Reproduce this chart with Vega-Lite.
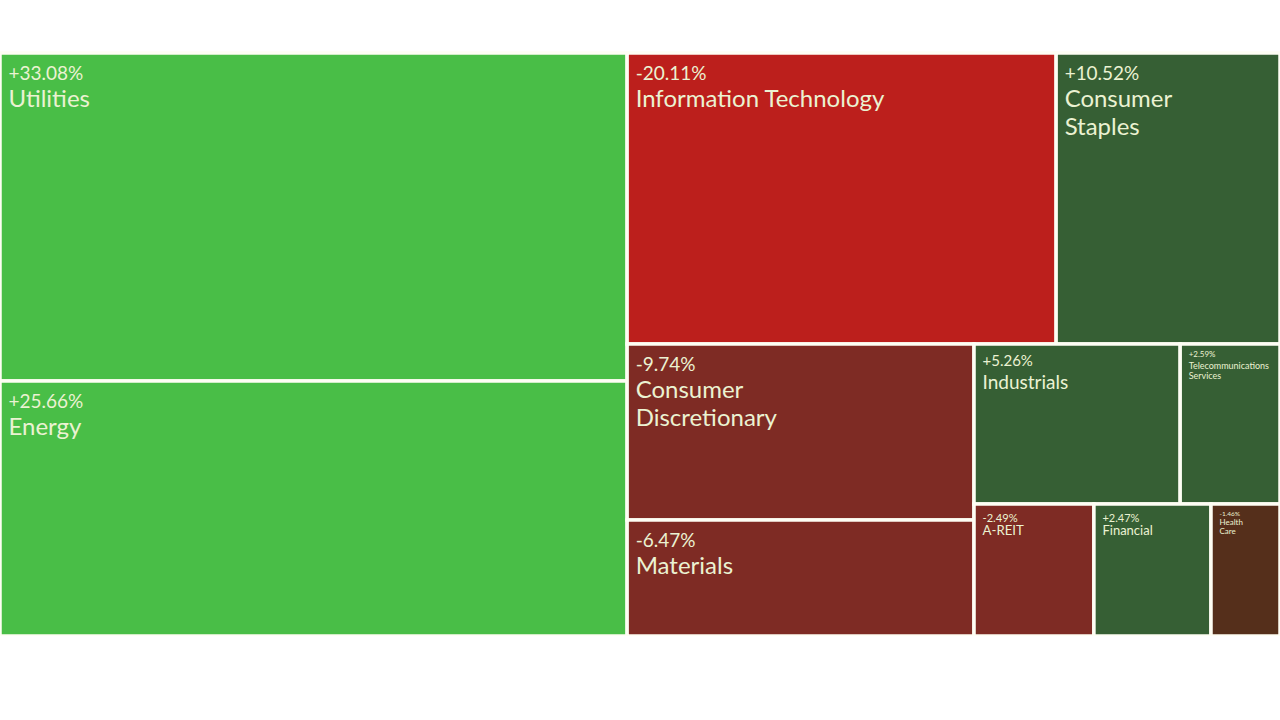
{
  "$schema": "https://vega.github.io/schema/vega-lite/v6.json",
  "width": 1280,
  "height": 583,
  "autosize": "none",
  "padding": {"left": 0, "top": 53, "right": 0, "bottom": 0},
  "background": "#ffffff",
  "config": {
    "view": {"stroke": null, "fill": "#fefef4"},
    "font": "Lato",
    "locale": {"number": {"decimal": ".", "thousands": ",", "grouping": [3], "currency": ["$", ""], "minus": "-"}}
  },
  "data": {
    "values": [
      {"name": "Utilities", "change": 0.3308, "weight": 27.56, "rank": 1, "l1": "A", "l2": "A.U", "l3": "A.U.x", "l4": "A.U.x.x", "l5": "A.U.x.x.x"},
      {"name": "Energy", "change": 0.2566, "weight": 21.43, "rank": 2, "l1": "A", "l2": "A.E", "l3": "A.E.x", "l4": "A.E.x.x", "l5": "A.E.x.x.x"},
      {"name": "Information Technology", "change": -0.2011, "weight": 16.73, "rank": 3, "l1": "B", "l2": "B.T", "l3": "B.T.IT", "l4": "B.T.IT.x", "l5": "B.T.IT.x.x"},
      {"name": "Consumer\nStaples", "change": 0.1052, "weight": 8.73, "rank": 4, "l1": "B", "l2": "B.T", "l3": "B.T.CS", "l4": "B.T.CS.x", "l5": "B.T.CS.x.x"},
      {"name": "Consumer\nDiscretionary", "change": -0.0974, "weight": 8.18, "rank": 5, "l1": "B", "l2": "B.B", "l3": "B.B.L", "l4": "B.B.L.CD", "l5": "B.B.L.CD.x"},
      {"name": "Materials", "change": -0.0647, "weight": 5.39, "rank": 6, "l1": "B", "l2": "B.B", "l3": "B.B.L", "l4": "B.B.L.M", "l5": "B.B.L.M.x"},
      {"name": "Industrials", "change": 0.0526, "weight": 4.42, "rank": 7, "l1": "B", "l2": "B.B", "l3": "B.B.R", "l4": "B.B.R.T", "l5": "B.B.R.T.I"},
      {"name": "Telecommunications\nServices", "change": 0.0259, "weight": 2.14, "rank": 8, "l1": "B", "l2": "B.B", "l3": "B.B.R", "l4": "B.B.R.T", "l5": "B.B.R.T.TS"},
      {"name": "A-REIT", "change": -0.0249, "weight": 2.12, "rank": 9, "l1": "B", "l2": "B.B", "l3": "B.B.R", "l4": "B.B.R.B", "l5": "B.B.R.B.AR"},
      {"name": "Financial", "change": 0.0247, "weight": 2.07, "rank": 10, "l1": "B", "l2": "B.B", "l3": "B.B.R", "l4": "B.B.R.B", "l5": "B.B.R.B.F"},
      {"name": "Health\nCare", "change": -0.0146, "weight": 1.22, "rank": 11, "l1": "B", "l2": "B.B", "l3": "B.B.R", "l4": "B.B.R.B", "l5": "B.B.R.B.HC"}
    ]
  },
  "transform": [
    {"joinaggregate": [{"op": "sum", "field": "weight", "as": "n0"}]},
    {"joinaggregate": [{"op": "sum", "field": "weight", "as": "n1"}], "groupby": ["l1"]},
    {"joinaggregate": [{"op": "sum", "field": "weight", "as": "n2"}], "groupby": ["l2"]},
    {"joinaggregate": [{"op": "sum", "field": "weight", "as": "n3"}], "groupby": ["l3"]},
    {"joinaggregate": [{"op": "sum", "field": "weight", "as": "n4"}], "groupby": ["l4"]},
    {"joinaggregate": [{"op": "sum", "field": "weight", "as": "n5"}], "groupby": ["l5"]},
    {"window": [{"op": "sum", "field": "weight", "as": "c0"}], "sort": [{"field": "rank"}], "frame": [null, 0]},
    {"window": [{"op": "sum", "field": "weight", "as": "c1"}], "sort": [{"field": "rank"}], "frame": [null, 0], "groupby": ["l1"]},
    {"window": [{"op": "sum", "field": "weight", "as": "c2"}], "sort": [{"field": "rank"}], "frame": [null, 0], "groupby": ["l2"]},
    {"window": [{"op": "sum", "field": "weight", "as": "c3"}], "sort": [{"field": "rank"}], "frame": [null, 0], "groupby": ["l3"]},
    {"window": [{"op": "sum", "field": "weight", "as": "c4"}], "sort": [{"field": "rank"}], "frame": [null, 0], "groupby": ["l4"]},
    {"window": [{"op": "sum", "field": "weight", "as": "c5"}], "sort": [{"field": "rank"}], "frame": [null, 0], "groupby": ["l5"]},
    {"calculate": "(datum.c0 - datum.c1) / datum.n0 + (datum.n1 / datum.n0) * (datum.c2 - datum.c3) / datum.n2 + (datum.n1 / datum.n0) * (datum.n3 / datum.n2) * (datum.c4 - datum.c5) / datum.n4", "as": "x0"},
    {"calculate": "(datum.n1 / datum.n0) * (datum.n3 / datum.n2) * (datum.n5 / datum.n4)", "as": "w"},
    {"calculate": "(datum.c1 - datum.c2) / datum.n1 + (datum.n2 / datum.n1) * (datum.c3 - datum.c4) / datum.n3", "as": "y0"},
    {"calculate": "(datum.n2 / datum.n1) * (datum.n4 / datum.n3)", "as": "h"},
    {"calculate": "datum.x0 + datum.w", "as": "x1"},
    {"calculate": "datum.y0 + datum.h", "as": "y1"}
  ],
  "layer": [
    {
      "mark": {"type": "rect", "stroke": "#fefef4", "strokeWidth": 3.5},
      "encoding": {
        "x": {"field": "x0", "type": "quantitative", "scale": {"domain": [0, 1], "nice": false, "zero": false}, "axis": null},
        "x2": {"field": "x1"},
        "y": {"field": "y0", "type": "quantitative", "scale": {"domain": [0, 1], "nice": false, "zero": false, "reverse": true}, "axis": null},
        "y2": {"field": "y1"},
        "color": {
          "field": "change", "type": "quantitative",
          "scale": {"type": "threshold", "domain": [-0.15, -0.02, 0, 0.15], "range": ["#bc1f1c", "#7e2b24", "#552f1b", "#365f34", "#49be47"]},
          "legend": null
        }
      }
    },
    {
      "mark": {"type": "text", "align": "left", "baseline": "alphabetic", "dx": 8.5, "color": "#ebf2d2",
        "dy": {"expr": "datum.w >= 0.17 ? 27 : datum.w >= 0.15 ? 22 : datum.w >= 0.085 ? 18 : datum.w >= 0.07 ? 12.5 : 11.5"}},
      "encoding": {
        "x": {"field": "x0", "type": "quantitative", "scale": {"domain": [0, 1], "nice": false, "zero": false}, "axis": null},
        "y": {"field": "y0", "type": "quantitative", "scale": {"domain": [0, 1], "nice": false, "zero": false, "reverse": true}, "axis": null},
        "size": {"field": "w", "type": "quantitative", "scale": {"type": "linear", "domain": [0.054, 0.078, 0.091, 0.161, 0.175], "range": [6.5, 8, 11, 15, 19], "clamp": true, "zero": false, "nice": false}, "legend": null},
        "text": {"field": "change", "type": "quantitative", "format": "+.2%"}
      }
    },
    {
      "mark": {"type": "text", "align": "left", "baseline": "alphabetic", "dx": 8.5, "color": "#ebf2d2", "lineBreak": "\n",
        "dy": {"expr": "datum.w >= 0.17 ? 54 : datum.w >= 0.15 ? 45 : datum.w >= 0.085 ? 31 : datum.w >= 0.07 ? 24.5 : 21"},
        "lineHeight": {"expr": "datum.w >= 0.17 ? 28 : datum.w >= 0.07 ? 10.5 : 9"}},
      "encoding": {
        "x": {"field": "x0", "type": "quantitative", "scale": {"domain": [0, 1], "nice": false, "zero": false}, "axis": null},
        "y": {"field": "y0", "type": "quantitative", "scale": {"domain": [0, 1], "nice": false, "zero": false, "reverse": true}, "axis": null},
        "size": {"field": "w", "type": "quantitative", "scale": {"type": "linear", "domain": [0.054, 0.078, 0.091, 0.161, 0.175], "range": [8, 9, 13, 19, 24], "clamp": true, "zero": false, "nice": false}, "legend": null},
        "text": {"field": "name", "type": "nominal"}
      }
    }
  ],
  "resolve": {"scale": {"size": "independent"}}
}
